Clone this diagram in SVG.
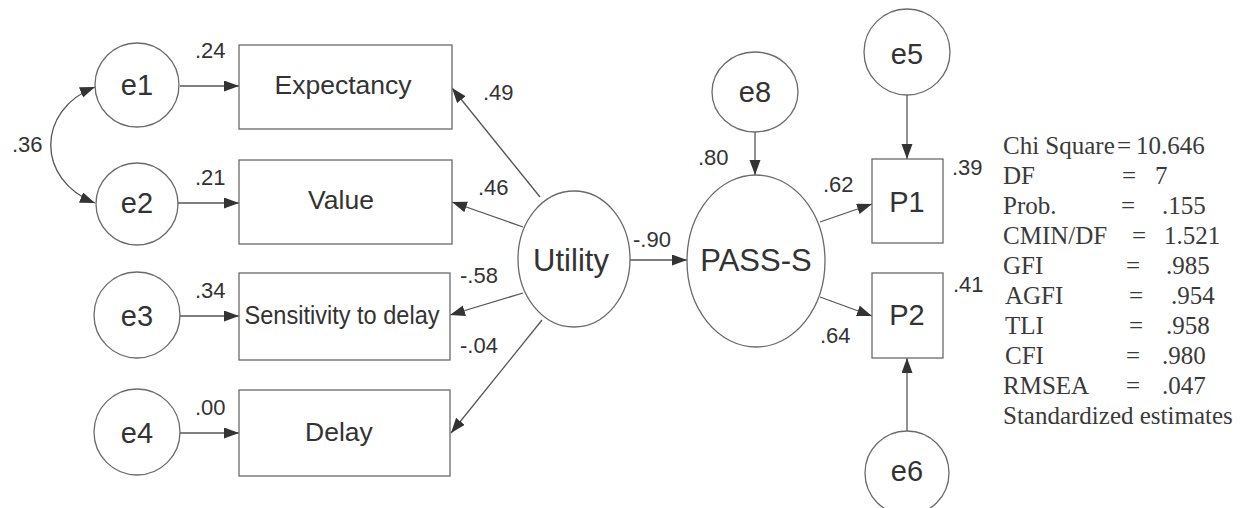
<svg xmlns="http://www.w3.org/2000/svg" width="1244" height="508" viewBox="0 0 1244 508">
<style>
.bg{fill:#ffffff}
.lat{fill:#ffffff;stroke:#6a6a6a;stroke-width:1.3}
.box{fill:#ffffff;stroke:#6a6a6a;stroke-width:1.3}
.lbl{font-family:"Liberation Sans",Arial,sans-serif;fill:#333333;text-anchor:middle}
.n26{font-size:26.5px}
.n29{font-size:29px}
.n31{font-size:31px}
.coef{font-family:"Liberation Sans",Arial,sans-serif;font-size:22px;fill:#333333}
.st{font-family:"Liberation Serif","Times New Roman",serif;font-size:25px;fill:#3a3a3a}
.con{fill:none;stroke:#555555;stroke-width:1.3}
</style>
<defs>
<marker id="ah" markerUnits="userSpaceOnUse" markerWidth="16" markerHeight="12" refX="15" refY="5.5" orient="auto-start-reverse" viewBox="0 0 16 12">
<path d="M0,0 L15,5.5 L0,11 z" fill="#333333"/>
</marker>
</defs>
<rect class="bg" x="0" y="0" width="1244" height="508"/>

<g id="connectors">
<path class="con" d="M95,87 C36,110 36,180 95,203" marker-start="url(#ah)" marker-end="url(#ah)"/>
<line class="con" x1="180" y1="86" x2="239" y2="86" marker-end="url(#ah)"/>
<line class="con" x1="178" y1="203" x2="239" y2="203" marker-end="url(#ah)"/>
<line class="con" x1="180" y1="316" x2="239" y2="316" marker-end="url(#ah)"/>
<line class="con" x1="180" y1="433" x2="239" y2="433" marker-end="url(#ah)"/>
<line class="con" x1="540" y1="197" x2="452" y2="88" marker-end="url(#ah)"/>
<line class="con" x1="523" y1="227" x2="452" y2="202" marker-end="url(#ah)"/>
<line class="con" x1="523" y1="293" x2="450" y2="315" marker-end="url(#ah)"/>
<line class="con" x1="542" y1="320" x2="451" y2="433" marker-end="url(#ah)"/>
<line class="con" x1="630" y1="260" x2="687" y2="260" marker-end="url(#ah)"/>
<line class="con" x1="755" y1="132" x2="755" y2="175" marker-end="url(#ah)"/>
<line class="con" x1="820" y1="222" x2="872" y2="204" marker-end="url(#ah)"/>
<line class="con" x1="820" y1="297" x2="872" y2="316" marker-end="url(#ah)"/>
<line class="con" x1="907" y1="95" x2="907" y2="159" marker-end="url(#ah)"/>
<line class="con" x1="907" y1="431" x2="907" y2="358" marker-end="url(#ah)"/>
</g>

<g id="labels">
<text class="coef" x="12" y="152">.36</text>
<text class="coef" x="195" y="58">.24</text>
<text class="coef" x="195" y="185">.21</text>
<text class="coef" x="195" y="298">.34</text>
<text class="coef" x="195" y="415">.00</text>
<text class="coef" x="483" y="100">.49</text>
<text class="coef" x="478" y="195">.46</text>
<text class="coef" x="460" y="283">-.58</text>
<text class="coef" x="460" y="353">-.04</text>
<text class="coef" x="633" y="247">-.90</text>
<text class="coef" x="698" y="165">.80</text>
<text class="coef" x="823" y="192">.62</text>
<text class="coef" x="820" y="343">.64</text>
<text class="coef" x="952" y="175">.39</text>
<text class="coef" x="953" y="292">.41</text>
</g>

<g id="e1"><circle class="lat" cx="137" cy="85" r="42"/><text class="lbl n29" x="137" y="95">e1</text></g>
<g id="e2"><circle class="lat" cx="137" cy="204" r="41"/><text class="lbl n29" x="137" y="213">e2</text></g>
<g id="e3"><circle class="lat" cx="137" cy="315" r="43"/><text class="lbl n29" x="137" y="326">e3</text></g>
<g id="e4"><circle class="lat" cx="137" cy="432" r="43"/><text class="lbl n29" x="137" y="443">e4</text></g>

<g id="expectancy"><rect class="box" x="239" y="45" width="213" height="84"/><text class="lbl n26" x="343" y="94">Expectancy</text></g>
<g id="value"><rect class="box" x="239" y="160" width="213" height="84"/><text class="lbl n26" x="341" y="209">Value</text></g>
<g id="sensitivity"><rect class="box" x="239" y="273" width="211" height="87"/><text class="lbl n26" x="342" y="324" textLength="195" lengthAdjust="spacingAndGlyphs">Sensitivity to delay</text></g>
<g id="delay"><rect class="box" x="239" y="390" width="211" height="86"/><text class="lbl n26" x="339" y="441">Delay</text></g>

<g id="utility"><ellipse class="lat" cx="574" cy="259" rx="56" ry="68"/><text class="lbl n31" x="571" y="271">Utility</text></g>
<g id="pass-s"><ellipse class="lat" cx="756" cy="261" rx="69" ry="86"/><text class="lbl n31" x="756" y="271">PASS-S</text></g>
<g id="e8"><ellipse class="lat" cx="755" cy="92" rx="43" ry="40"/><text class="lbl n29" x="755" y="102">e8</text></g>
<g id="e5"><circle class="lat" cx="907" cy="52" r="43"/><text class="lbl n29" x="907" y="64">e5</text></g>
<g id="e6"><circle class="lat" cx="907" cy="473" r="42"/><text class="lbl n29" x="907" y="481">e6</text></g>
<g id="p1"><rect class="box" x="872" y="159" width="71" height="84"/><text class="lbl n29" x="907" y="212">P1</text></g>
<g id="p2"><rect class="box" x="872" y="273" width="71" height="85"/><text class="lbl n29" x="907" y="325">P2</text></g>

<g id="fit-stats">
<text class="st" x="1003" y="154">Chi Square</text><text class="st" x="1117" y="154">=</text><text class="st" x="1136" y="154">10.646</text>
<text class="st" x="1003" y="184">DF</text><text class="st" x="1122" y="184">=</text><text class="st" x="1155" y="184">7</text>
<text class="st" x="1003" y="214">Prob.</text><text class="st" x="1121" y="214">=</text><text class="st" x="1162" y="214">.155</text>
<text class="st" x="1003" y="244">CMIN/DF</text><text class="st" x="1132" y="244">=</text><text class="st" x="1164" y="244">1.521</text>
<text class="st" x="1003" y="274">GFI</text><text class="st" x="1126" y="274">=</text><text class="st" x="1166" y="274">.985</text>
<text class="st" x="1005" y="304">AGFI</text><text class="st" x="1129" y="304">=</text><text class="st" x="1171" y="304">.954</text>
<text class="st" x="1005" y="334">TLI</text><text class="st" x="1129" y="334">=</text><text class="st" x="1166" y="334">.958</text>
<text class="st" x="1005" y="364">CFI</text><text class="st" x="1126" y="364">=</text><text class="st" x="1162" y="364">.980</text>
<text class="st" x="1003" y="394">RMSEA</text><text class="st" x="1126" y="394">=</text><text class="st" x="1162" y="394">.047</text>
<text class="st" x="1003" y="424">Standardized estimates</text>
</g>
</svg>
